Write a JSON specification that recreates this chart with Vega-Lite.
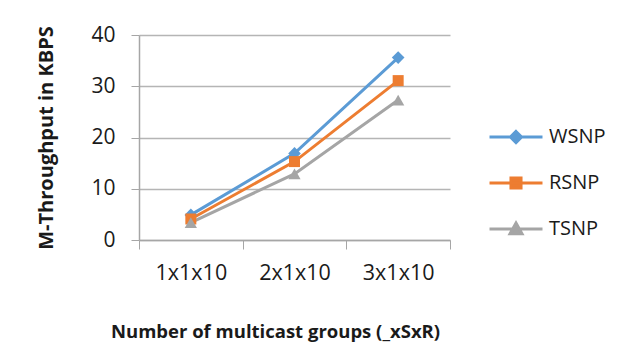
{
  "$schema": "https://vega.github.io/schema/vega-lite/v6.json",
  "width": 311,
  "height": 205,
  "autosize": {"type": "none"},
  "padding": {"left": 139, "top": 35, "right": 194, "bottom": 122},
  "background": "white",
  "config": {
    "view": {"stroke": null},
    "font": "Open Sans",
    "axis": {"labelColor": "#1a1a1a", "titleColor": "#1a1a1a", "labelFont": "Open Sans", "titleFont": "Open Sans"}
  },
  "data": {
    "values": [
      {"group": "1x1x10", "series": "WSNP", "throughput": 4.9},
      {"group": "2x1x10", "series": "WSNP", "throughput": 16.9},
      {"group": "3x1x10", "series": "WSNP", "throughput": 35.6},
      {"group": "1x1x10", "series": "RSNP", "throughput": 4.1},
      {"group": "2x1x10", "series": "RSNP", "throughput": 15.3},
      {"group": "3x1x10", "series": "RSNP", "throughput": 31.1},
      {"group": "1x1x10", "series": "TSNP", "throughput": 3.4},
      {"group": "2x1x10", "series": "TSNP", "throughput": 12.9},
      {"group": "3x1x10", "series": "TSNP", "throughput": 27.3}
    ]
  },
  "encoding": {
    "x": {
      "field": "group",
      "type": "nominal",
      "sort": null,
      "scale": {"type": "band", "paddingInner": 0, "paddingOuter": 0},
      "axis": {
        "title": "Number of multicast groups (_xSxR)",
        "titleFontSize": 18.5,
        "titleFontWeight": "bold",
        "titleX": 136,
        "titleY": 97,
        "titleBaseline": "alphabetic",
        "labelAngle": 0,
        "labelFontSize": 21.5,
        "labelPadding": 13,
        "tickBand": "extent",
        "tickSize": 9,
        "tickColor": "#A6A6A6",
        "domainColor": "#A6A6A6",
        "domainWidth": 1.5,
        "grid": false
      }
    },
    "y": {
      "field": "throughput",
      "type": "quantitative",
      "scale": {"domain": [0, 40], "nice": false},
      "axis": {
        "title": "M-Throughput in KBPS",
        "titleFontSize": 20,
        "titleFontWeight": "bold",
        "titleX": -93,
        "titleY": 102.5,
        "titleAlign": "center",
        "titleBaseline": "middle",
        "values": [0, 10, 20, 30, 40],
        "labelFontSize": 21,
        "labelPadding": 16,
        "tickSize": 8,
        "tickColor": "#A6A6A6",
        "domainColor": "#A6A6A6",
        "domainWidth": 1.5,
        "gridColor": "#B5B5B5",
        "gridWidth": 1.5
      }
    },
    "color": {
      "field": "series",
      "type": "nominal",
      "scale": {"domain": ["WSNP", "RSNP", "TSNP"], "range": ["#5B9BD5", "#ED7D31", "#A5A5A5"]},
      "legend": {
        "title": null,
        "orient": "none",
        "legendX": 362,
        "legendY": 87,
        "padding": 0,
        "labelFontSize": 20,
        "labelColor": "#1a1a1a",
        "labelFont": "Open Sans",
        "labelOffset": 18,
        "rowPadding": 19,
        "symbolSize": 702,
        "symbolStrokeWidth": 3,
        "symbolOpacity": 1,
        "encode": {
          "symbols": {
            "update": {
              "shape": {"signal": "datum.value == 'WSNP' ? 'M-2,0H2M0,-0.42L0.42,0L0,0.42L-0.42,0Z' : datum.value == 'RSNP' ? 'M-2,0H2M-0.38,-0.38H0.38V0.38H-0.38Z' : 'M-2,0H2M0,-0.45L0.45,0.35H-0.45Z'"},
              "strokeWidth": {"value": 3}
            }
          }
        }
      }
    }
  },
  "layer": [
    {
      "mark": {"type": "line", "strokeWidth": 3}
    },
    {
      "transform": [{"filter": "datum.series == 'WSNP'"}],
      "mark": {"type": "point", "shape": "diamond", "filled": true, "opacity": 1, "size": 160}
    },
    {
      "transform": [{"filter": "datum.series == 'RSNP'"}],
      "mark": {"type": "point", "shape": "square", "filled": true, "opacity": 1, "size": 121}
    },
    {
      "transform": [{"filter": "datum.series == 'TSNP'"}],
      "mark": {"type": "point", "shape": "triangle-up", "filled": true, "opacity": 1, "size": 150}
    }
  ]
}
